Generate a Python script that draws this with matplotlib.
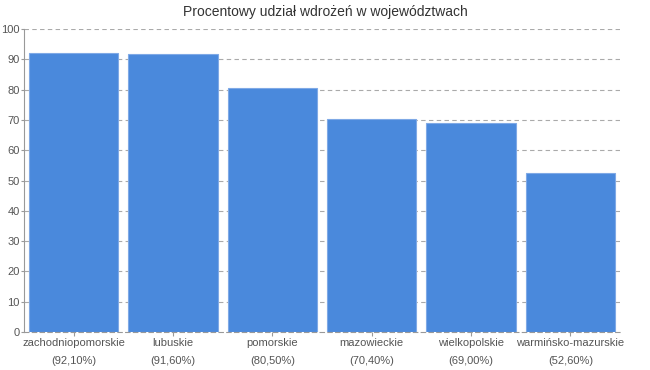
import matplotlib
matplotlib.use("Agg")
import matplotlib.pyplot as plt

categories = ["zachodniopomorskie", "lubuskie", "pomorskie", "mazowieckie", "wielkopolskie", "warmińsko-mazurskie"]
values = [92.1, 91.6, 80.5, 70.4, 69.0, 52.6]
pct_labels = ["(92,10%)", "(91,60%)", "(80,50%)", "(70,40%)", "(69,00%)", "(52,60%)"]
yticks = [0, 10, 20, 30, 40, 50, 60, 70, 80, 90, 100]
title = "Procentowy udział wdrożeń w województwach"

plt.rcParams['font.family'] = ['Liberation Sans', 'DejaVu Sans']

fig = plt.figure(figsize=(6.5, 3.7), dpi=100)
ax = fig.add_axes([24/650, (370-332)/370, (620-24)/650, (332-29)/370])

x = list(range(len(categories)))
ax.bar(x, values, width=0.9, color="#4a89dc", edgecolor="#7fa9e6", linewidth=0.8, zorder=3)

ax.set_xlim(-0.5, len(categories) - 0.5)
ax.set_ylim(0, 100)
ax.set_yticks(yticks)
ax.set_yticklabels([str(t) for t in yticks], fontsize=8, color="#555555")
ax.set_xticks(x)
ax.set_xticklabels([f"{c}\n{p}" for c, p in zip(categories, pct_labels)],
                   fontsize=8, color="#555555", linespacing=2.0)

for t in yticks[1:]:
    ax.axhline(t, color="#aaaaaa", linestyle=(0, (4, 3)), linewidth=0.8, zorder=1)

for s in ["top", "right"]:
    ax.spines[s].set_visible(False)
ax.spines["left"].set_color("#999999")
ax.spines["left"].set_linewidth(0.8)
ax.spines["bottom"].set_color("#999999")
ax.spines["bottom"].set_linestyle((0, (4, 3)))
ax.spines["bottom"].set_linewidth(0.8)
ax.spines["bottom"].set_zorder(4)
ax.tick_params(axis="y", colors="#999999", length=2.5, width=0.8, pad=0.5)
ax.tick_params(axis="x", colors="#999999", length=3, width=0.8, pad=1)
for lab in ax.get_xticklabels() + ax.get_yticklabels():
    lab.set_color("#555555")

fig.text(325/650, 1 - 12/370, title, ha="center", va="center", fontsize=10, color="#333333")

fig.savefig("out.png", dpi=100)
